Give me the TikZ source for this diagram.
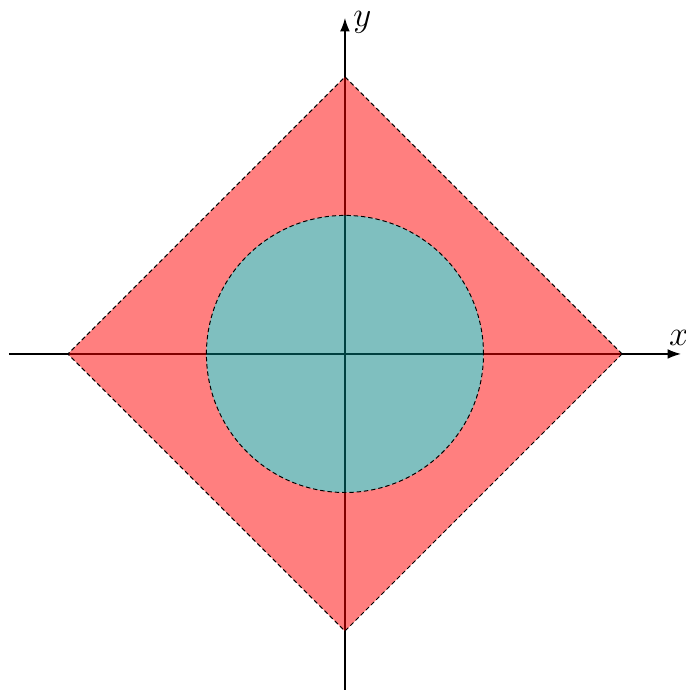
\documentclass[tikz,border=0pt]{standalone}
\usetikzlibrary{arrows.meta}
\begin{document}
\begin{tikzpicture}[
  axis/.style={line width=0.5pt,-{Latex[length=5.5pt,width=4pt]}},
  bord/.style={line width=0.4pt,dash pattern=on 1.8pt off 1.2pt},
  lab/.style={font=\Large}
]
\useasboundingbox (-4.98,-4.88) rectangle (4.92,5.11);
\coordinate (xa) at (-4.85,0);
\coordinate (xb) at (4.85,0);
\coordinate (ya) at (0,-4.85);
\coordinate (yb) at (0,4.85);
\draw[axis] (xa) -- (xb);
\draw[axis] (ya) -- (yb);
\node[lab,above,inner sep=2pt] (xl) at (4.82,0.05) {$x$};
\node[lab,right,inner sep=1pt] (yl) at (0.08,4.78) {$y$};
\coordinate (r) at (4,0);
\coordinate (t) at (0,4);
\coordinate (l) at (-4,0);
\coordinate (b) at (0,-4);
\fill[red, fill opacity=0.5, even odd rule] (r) -- (t) -- (l) -- (b) -- cycle (0,0) circle (2);
\fill[teal, fill opacity=0.5] (0,0) circle (2);
\draw[bord] (r) -- (t) -- (l) -- (b) -- cycle;
\draw[bord] (0,0) circle (2);
\end{tikzpicture}
\end{document}
